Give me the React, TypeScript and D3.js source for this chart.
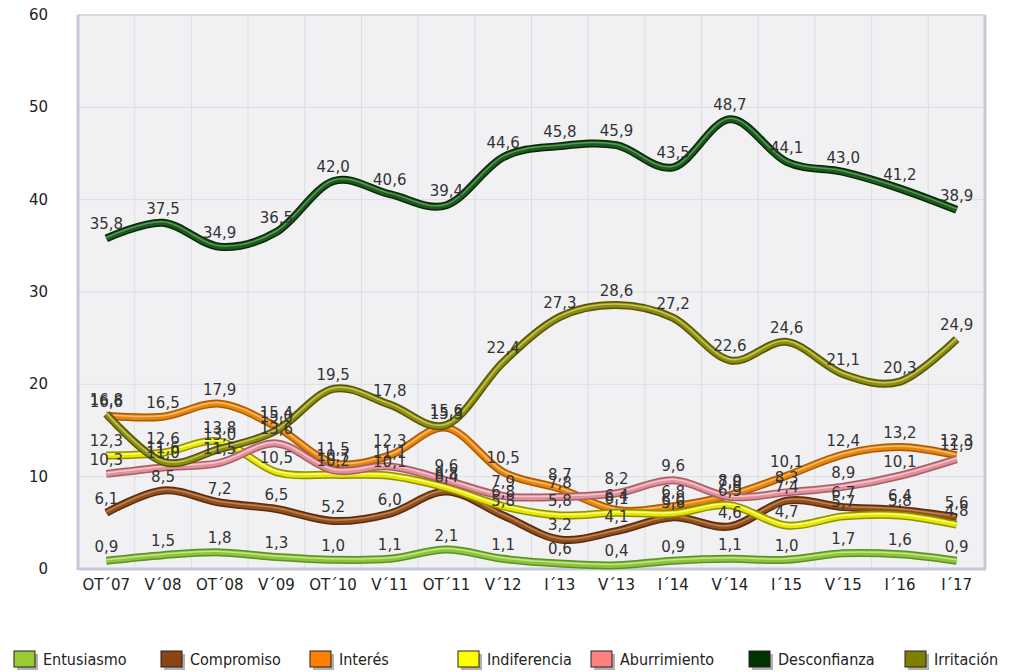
import React from "react";
import * as d3 from "d3";

const categories = ["OT´07","V´08","OT´08","V´09","OT´10","V´11","OT´11","V´12","I´13","V´13","I´14","V´14","I´15","V´15","I´16","I´17"];
const seriesNames = ["Entusiasmo","Compromiso","Interés","Indiferencia","Aburrimiento","Desconfianza","Irritación"];
const entusiasmo = [0.9,1.5,1.8,1.3,1.0,1.1,2.1,1.1,0.6,0.4,0.9,1.1,1.0,1.7,1.6,0.9];
const compromiso = [6.1,8.5,7.2,6.5,5.2,6.0,8.4,5.8,3.2,4.1,5.6,4.6,7.4,6.7,6.4,5.6];
const interes = [16.6,16.5,17.9,15.4,11.5,12.3,15.3,10.5,8.7,6.4,6.8,8.0,10.1,12.4,13.2,12.3];
const indiferencia = [12.3,12.6,13.8,10.5,10.2,10.1,8.8,6.8,5.8,6.1,6.0,6.9,4.7,5.7,5.8,4.8];
const aburrimiento = [10.3,11.0,11.5,13.6,10.7,11.1,9.6,7.9,7.8,8.2,9.6,7.8,8.3,8.9,10.1,11.9];
const desconfianza = [35.8,37.5,34.9,36.5,42.0,40.6,39.4,44.6,45.8,45.9,43.5,48.7,44.1,43.0,41.2,38.9];
const irritacion = [16.8,11.6,13.0,15.0,19.5,17.8,15.6,22.4,27.3,28.6,27.2,22.6,24.6,21.1,20.3,24.9];
const yTicks = [0,10,20,30,40,50,60];

const seriesValues = [entusiasmo, compromiso, interes, indiferencia, aburrimiento, desconfianza, irritacion];
const lineColors = [
  { base: "#8cc43c", dark: "#5f8f25", light: "#c8ea90" },
  { base: "#8f4f1f", dark: "#5a2e0c", light: "#c98a55" },
  { base: "#e8850f", dark: "#a85a05", light: "#f9c377" },
  { base: "#e6e600", dark: "#8f8f00", light: "#ffff99" },
  { base: "#e0909a", dark: "#a85e66", light: "#f9cdd1" },
  { base: "#1e5a1e", dark: "#082808", light: "#5fa05f" },
  { base: "#8c8c12", dark: "#555500", light: "#cccc66" },
];
const legendColors = ["#99cc33","#8b4513","#ff8000","#ffff00","#ff8080","#003300","#808000"];
const legendX = [14, 161, 310, 458, 591, 749, 905];

const W = 1011, H = 672;
const left = 78, right = 985, top = 15, bottom = 569;

export default function App() {
  const x = d3.scaleBand<string>().domain(categories).range([left, right]);
  const cx = (c: string) => (x(c) as number) + x.bandwidth() / 2;
  const y = d3.scaleLinear().domain([0, 60]).range([bottom, top]);
  const line = d3.line<number>()
    .x((_, i) => cx(categories[i]))
    .y((v) => y(v))
    .curve(d3.curveCardinal.tension(0));
  const fmt = (v: number) => v.toFixed(1).replace(".", ",");
  const font = "'DejaVu Sans', Verdana, sans-serif";

  return (
    <svg width={W} height={H} style={{ position: "absolute", left: 0, top: 0, background: "#fff" }}>
      <rect x={left} y={top} width={right - left} height={bottom - top} fill="#f1f1f3" />
      {yTicks.map((t) => (
        <line key={"gy" + t} x1={left} x2={right} y1={y(t)} y2={y(t)} stroke="#dcdce2" strokeWidth={1} />
      ))}
      {categories.map((c, i) => (
        <line key={"gx" + i} x1={(x(c) as number)} x2={(x(c) as number)} y1={top} y2={bottom} stroke="#dcdce2" strokeWidth={1} />
      ))}
      <line x1={left} x2={right} y1={top} y2={top} stroke="#d6d8de" strokeWidth={2} />
      <line x1={right} x2={right} y1={top} y2={bottom} stroke="#c8cad0" strokeWidth={3} />
      <line x1={left} x2={left} y1={top} y2={bottom + 1} stroke="#c4cad8" strokeWidth={3} />
      <line x1={left} x2={right + 1} y1={bottom} y2={bottom} stroke="#c4cad8" strokeWidth={3} />

      {seriesValues.map((vals, si) => {
        const d = line(vals) || "";
        const c = lineColors[si];
        return (
          <g key={"s" + si}>
            <path d={d} fill="none" stroke={c.dark} strokeWidth={8} strokeLinecap="butt" strokeLinejoin="round" />
            <path d={d} fill="none" stroke={c.base} strokeWidth={5} strokeLinecap="butt" strokeLinejoin="round" />
            <path d={d} fill="none" stroke={c.light} strokeWidth={1.5} strokeLinecap="butt" transform="translate(0,-1)" opacity={0.9} />
          </g>
        );
      })}

      {seriesValues.map((vals, si) => (
        <g key={"l" + si}>
          {vals.map((v, i) => (
            <text key={i} x={cx(categories[i])} y={y(v) - 9} textAnchor="middle" fontFamily={font} fontSize={15} fill="#333">
              {fmt(v)}
            </text>
          ))}
        </g>
      ))}

      {yTicks.map((t) => (
        <text key={"ty" + t} x={48} y={y(t) + 5} textAnchor="end" fontFamily={font} fontSize={15} fill="#222">{t}</text>
      ))}
      {categories.map((c, i) => (
        <text key={"tx" + i} x={cx(c)} y={590} textAnchor="middle" fontFamily={font} fontSize={15} fill="#222">{c}</text>
      ))}

      {seriesNames.map((n, i) => (
        <g key={"lg" + i} transform={`translate(${legendX[i]},651)`}>
          <rect x={3} y={3} width={21} height={16} fill="#b0b0b0" />
          <rect x={0} y={0} width={21} height={16} fill={legendColors[i]} stroke="#222" strokeWidth={1} />
          <text x={29} y={14} fontFamily="'Liberation Sans Narrow', 'DejaVu Sans Condensed', sans-serif" fontSize={16} fill="#222">{n}</text>
        </g>
      ))}
    </svg>
  );
}
